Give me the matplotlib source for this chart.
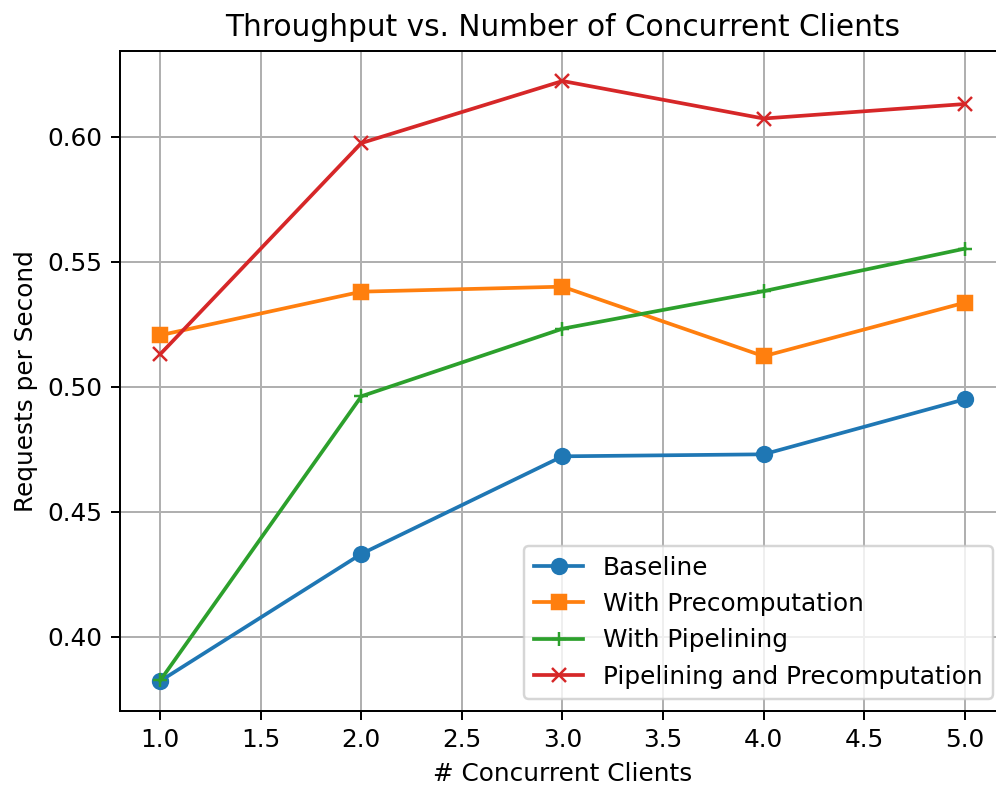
import matplotlib
matplotlib.use("Agg")
import matplotlib.pyplot as plt

clients = [1, 2, 3, 4, 5]
baseline = [0.3824, 0.4332, 0.4722, 0.4730, 0.4950]
precomp = [0.5206, 0.5380, 0.5400, 0.5122, 0.5336]
pipelining = [0.3826, 0.4962, 0.5232, 0.5382, 0.5552]
pipe_precomp = [0.5130, 0.5974, 0.6222, 0.6072, 0.6130]

DPI = 178
fig = plt.figure(figsize=(997 / DPI, 788 / DPI), dpi=DPI)
ax = fig.add_axes([120 / 997, 77 / 788, 885 / 997, 660 / 788])

ax.plot(clients, baseline, marker='o', label='Baseline')
ax.plot(clients, precomp, marker='s', label='With Precomputation')
ax.plot(clients, pipelining, marker='+', label='With Pipelining')
ax.plot(clients, pipe_precomp, marker='x', label='Pipelining and Precomputation')

ax.set_title('Throughput vs. Number of Concurrent Clients')
ax.set_xlabel('# Concurrent Clients')
ax.set_ylabel('Requests per Second')
ax.grid(True)
ax.legend(loc='lower right')

fig.savefig('out.png', dpi=DPI)
